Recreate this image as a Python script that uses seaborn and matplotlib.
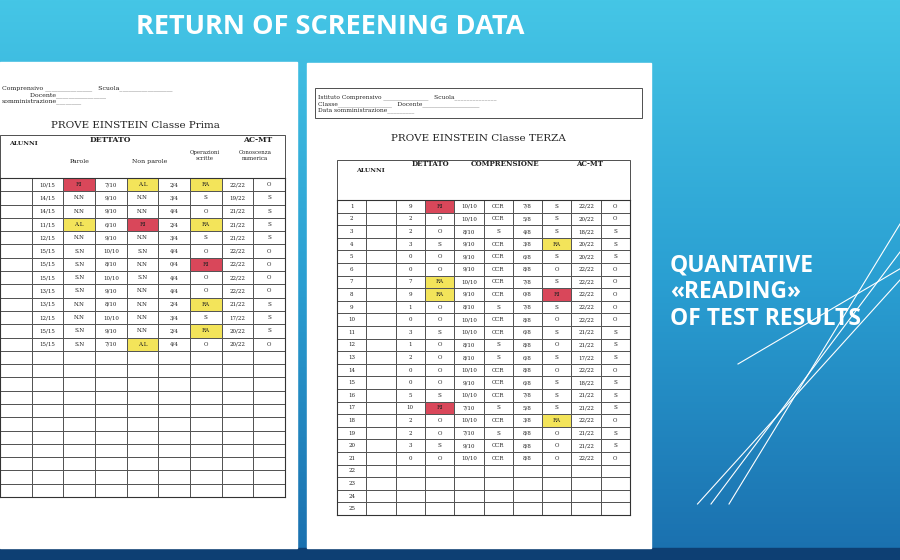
import numpy as np
import pandas as pd
import seaborn as sns
import matplotlib
matplotlib.use("Agg")
import matplotlib.pyplot as plt
from matplotlib.colors import ListedColormap, LinearSegmentedColormap
from matplotlib.patches import Rectangle

# ---- data: PROVE EINSTEIN Classe Prima ----
prima_parole = ["10/15","14/15","14/15","11/15","12/15","15/15","15/15","15/15","13/15","13/15","12/15","15/15","15/15"]
prima_parole_val = ["RI","N.N","N.N","A.L","N.N","S.N","S.N","S.N","S.N","N.N","N.N","S.N","S.N"]
prima_nonparole = ["7/10","9/10","9/10","6/10","9/10","10/10","8/10","10/10","9/10","8/10","10/10","9/10","7/10"]
prima_nonparole_val = ["A.L","N.N","N.N","RI","N.N","S.N","N.N","S.N","N.N","N.N","N.N","N.N","A.L"]
prima_oper = ["2/4","3/4","4/4","2/4","3/4","4/4","0/4","4/4","4/4","2/4","3/4","2/4","4/4"]
prima_oper_val = ["RA","S","O","RA","S","O","RI","O","O","RA","S","RA","O"]
prima_con = ["22/22","19/22","21/22","21/22","21/22","22/22","22/22","22/22","22/22","21/22","17/22","20/22","20/22"]
prima_con_val = ["O","S","S","S","S","O","O","O","O","S","S","S","O"]

# ---- data: PROVE EINSTEIN Classe TERZA ----
terza_err = ["9","2","2","3","0","0","7","9","1","0","3","1","2","0","0","5","10","2","2","3","0"]
terza_err_val = ["RI","O","O","S","O","O","RA","RA","O","O","S","O","O","O","O","S","RI","O","O","S","O"]
terza_comp = ["10/10","10/10","8/10","9/10","9/10","9/10","10/10","9/10","8/10","10/10","10/10","8/10","8/10","10/10","9/10","10/10","7/10","10/10","7/10","9/10","10/10"]
terza_comp_val = ["CCR","CCR","S","CCR","CCR","CCR","CCR","CCR","S","CCR","CCR","S","S","CCR","CCR","CCR","S","CCR","S","CCR","CCR"]
terza_oper = ["7/8","5/8","4/8","3/8","6/8","8/8","7/8","0/8","7/8","8/8","6/8","8/8","6/8","8/8","6/8","7/8","5/8","3/8","8/8","8/8","8/8"]
terza_oper_val = ["S","S","S","RA","S","O","S","RI","S","O","S","O","S","O","S","S","S","RA","O","O","O"]
terza_con = ["22/22","20/22","18/22","20/22","20/22","22/22","22/22","22/22","22/22","22/22","21/22","21/22","17/22","22/22","18/22","21/22","21/22","22/22","21/22","21/22","22/22"]
terza_con_val = ["O","O","S","S","S","O","O","O","O","O","S","S","S","O","S","S","S","O","S","S","O"]

code = {"RI": 2, "RA": 1, "A.L": 1}

fig = plt.figure(figsize=(9, 5.6), dpi=100)
bg = fig.add_axes([0, 0, 1, 1]); bg.axis("off")
grad = LinearSegmentedColormap.from_list("g", ["#45c6e6", "#2a9fd2", "#1a6fae"])
bg.imshow(np.linspace(0, 1, 256)[:, None], aspect="auto", cmap=grad, extent=[0, 1, 0, 1])
bg.add_patch(Rectangle((0, 0), 1, 12/560, color="#0d3f73"))
for x0, y1 in [(0.775, 0.50), (0.79, 0.55), (0.81, 0.60)]:
    bg.plot([x0, 1.0], [0.1, y1], color="white", lw=0.8)
bg.plot([0.82, 1.0], [0.35, 0.52], color="white", lw=0.8)
bg.set_xlim(0, 1); bg.set_ylim(0, 1)
bg.add_patch(Rectangle((0, 1-548/560), 297/900, 486/560, color="white"))
bg.add_patch(Rectangle((307/900, 1-548/560), 344/900, 485/560, color="white"))

fig.text(330/900, 1-27/560, "RETURN OF SCREENING DATA", color="white", fontsize=19.5,
         fontweight="bold", ha="center", va="center", family="Open Sans")
fig.text(670/900, 1-292/560, "QUANTATIVE\n«READING»\nOF TEST RESULTS", color="white",
         fontsize=16.5, fontweight="bold", ha="left", va="center", family="Open Sans", linespacing=1.15)

cmap = ListedColormap(["white", "#f3e45a", "#d9475a"])

def table(rect, cols, nrows, first_cols):
    ax = fig.add_axes(rect)
    n = len(cols[0])
    ncols = first_cols + len(cols)
    colors = np.zeros((nrows, ncols))
    annot = np.full((nrows, ncols), "", dtype=object)
    for j, c in enumerate(cols):
        for i in range(n):
            annot[i, first_cols + j] = c[i]
            colors[i, first_cols + j] = code.get(c[i], 0)
    if first_cols == 2:
        for i in range(nrows):
            annot[i, 0] = str(i + 1)
    sns.heatmap(pd.DataFrame(colors), ax=ax, cmap=cmap, vmin=0, vmax=2, cbar=False,
                annot=annot, fmt="", annot_kws={"fontsize": 4, "color": "#222", "family": "DejaVu Serif"},
                linewidths=0.5, linecolor="#555")
    ax.set_xticks([]); ax.set_yticks([])
    for s in ax.spines.values():
        s.set_visible(True); s.set_color("#333")
    return ax

table([0.0, 1-497/560, 285/900, 319/560],
      [prima_parole, prima_parole_val, prima_nonparole, prima_nonparole_val,
       prima_oper, prima_oper_val, prima_con, prima_con_val], 24, 1)
table([337/900, 1-515/560, 293/900, 315/560],
      [terza_err, terza_err_val, terza_comp, terza_comp_val,
       terza_oper, terza_oper_val, terza_con, terza_con_val], 25, 2)

serif = dict(family="DejaVu Serif", color="#222")
fig.text(0.002, 1-95/560, "Comprensivo _______________   Scuola_________________\n              Docente________________\nsomministrazione________", fontsize=4.5, va="center", **serif)
fig.text(135/900, 1-128/560, "PROVE EINSTEIN Classe Prima", fontsize=7.5, ha="center", **serif)
fig.text(0.01, 1-145/560, "ALUNNI", fontsize=4.5, fontweight="bold", **serif)
fig.text(110/900, 1-142/560, "DETTATO", fontsize=5.5, fontweight="bold", ha="center", **serif)
fig.text(258/900, 1-142/560, "AC-MT", fontsize=5.5, fontweight="bold", ha="center", **serif)
fig.text(80/900, 1-163/560, "Parole", fontsize=4.5, ha="center", **serif)
fig.text(150/900, 1-163/560, "Non parole", fontsize=4.5, ha="center", **serif)
fig.text(205/900, 1-160/560, "Operazioni\nscritte", fontsize=4, ha="center", **serif)
fig.text(255/900, 1-160/560, "Conoscenza\nnumerica", fontsize=4, ha="center", **serif)
fig.add_artist(Rectangle((0, 1-178/560), 285/900, 43/560, fill=False, lw=0.6, ec="#333"))
fig.add_artist(Rectangle((315/900, 1-118/560), 327/900, 30/560, fill=False, lw=0.6, ec="#333"))
fig.text(318/900, 1-104/560, "Istituto Comprensivo _______________   Scuola______________\nClasse__________________   Docente___________________\nData somministrazione_________", fontsize=4.3, va="center", **serif)
fig.text(478/900, 1-141/560, "PROVE EINSTEIN Classe TERZA", fontsize=7.5, ha="center", **serif)
fig.add_artist(Rectangle((337/900, 1-200/560), 293/900, 40/560, fill=False, lw=0.6, ec="#333"))
fig.text(370/900, 1-172/560, "ALUNNI", fontsize=4.5, fontweight="bold", ha="center", **serif)
fig.text(430/900, 1-166/560, "DETTATO", fontsize=5, fontweight="bold", ha="center", **serif)
fig.text(505/900, 1-166/560, "COMPRENSIONE", fontsize=5, fontweight="bold", ha="center", **serif)
fig.text(590/900, 1-166/560, "AC-MT", fontsize=5, fontweight="bold", ha="center", **serif)

fig.savefig("out.png", dpi=100)
